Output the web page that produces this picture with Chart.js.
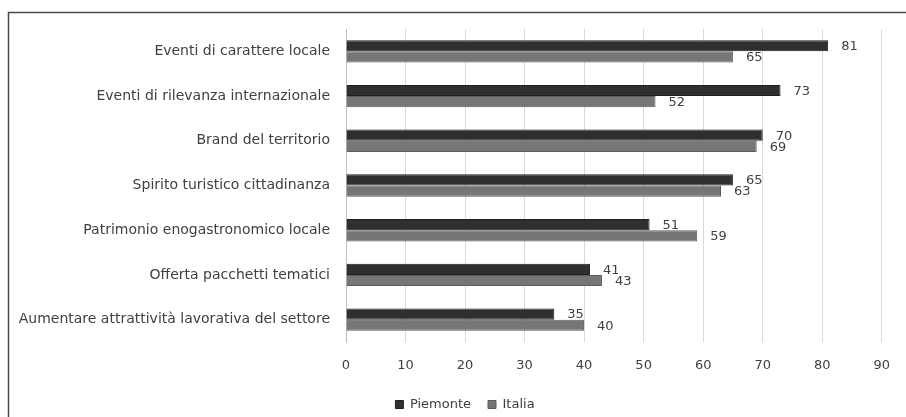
<!DOCTYPE html>
<html>
<head>
<meta charset="utf-8">
<script src="https://cdn.jsdelivr.net/npm/chart.js@4/dist/chart.umd.min.js"></script>
<style>
  html, body { margin: 0; padding: 0; background: #fff; }
  #wrap { width: 906px; height: 417px; }
</style>
</head>
<body>
<div id="wrap"><canvas id="chart"></canvas></div>
<script>
const categories = [
  'Eventi di carattere locale',
  'Eventi di rilevanza internazionale',
  'Brand del territorio',
  'Spirito turistico cittadinanza',
  'Patrimonio enogastronomico locale',
  'Offerta pacchetti tematici',
  'Aumentare attrattività lavorativa del settore'
]
const piemonte = [81, 73, 70, 65, 51, 41, 35]
const italia = [65, 52, 69, 63, 59, 43, 40]
const xTicks = [0, 10, 20, 30, 40, 50, 60, 70, 80, 90]

const FONT = 'DejaVu Sans'

// frame around the whole chart
const framePlugin = {
  id: 'frame',
  beforeDraw(chart) {
    const ctx = chart.ctx
    ctx.save()
    ctx.fillStyle = '#fff'
    ctx.fillRect(0, 0, chart.width, chart.height)
    ctx.strokeStyle = '#4a4a4a'
    ctx.lineWidth = 1.5
    ctx.strokeRect(8.5, 12.5, 1200, 1200)
    ctx.restore()
  }
}

// nudge the legend a bit to the right, like the original
const legendShift = {
  id: 'legendShift',
  afterLayout(chart) {
    chart.legend.left += 23
    chart.legend.right += 23
  }
}

// value labels at the end of each bar
const valueLabels = {
  id: 'valueLabels',
  afterDatasetsDraw(chart) {
    const ctx = chart.ctx
    ctx.save()
    ctx.font = '13px "' + FONT + '"'
    ctx.fillStyle = '#404040'
    ctx.textAlign = 'left'
    ctx.textBaseline = 'middle'
    chart.data.datasets.forEach((ds, i) => {
      chart.getDatasetMeta(i).data.forEach((bar, j) => {
        ctx.fillText(String(ds.data[j]), bar.x + 13, bar.y + 1)
      })
    })
    ctx.restore()
  }
}

const chart = new Chart(document.getElementById('chart'), {
  type: 'bar',
  data: {
    labels: categories,
    datasets: [
      {
        label: 'Piemonte',
        data: piemonte,
        backgroundColor: '#2f2f2f',
        borderColor: '#1e1e1e',
        borderWidth: 1,
        categoryPercentage: 0.5,
        barPercentage: 1
      },
      {
        label: 'Italia',
        data: italia,
        backgroundColor: '#767676',
        borderColor: '#5c5c5c',
        borderWidth: 1,
        categoryPercentage: 0.5,
        barPercentage: 1
      }
    ]
  },
  options: {
    indexAxis: 'y',
    responsive: true,
    maintainAspectRatio: false,
    animation: false,
    layout: { padding: { top: 29, right: 22, bottom: -4, left: 0 } },
    plugins: {
      tooltip: { enabled: false },
      legend: {
        position: 'bottom',
        labels: {
          boxWidth: 8,
          boxHeight: 8,
          padding: 17,
          color: '#404040',
          font: { family: FONT, size: 13 }
        }
      }
    },
    scales: {
      x: {
        min: 0,
        max: 90,
        afterBuildTicks(scale) {
          scale.ticks = xTicks.map(v => ({ value: v }))
        },
        afterFit(scale) { scale.height = 39 },
        grid: { color: '#d9d9d9', drawTicks: false },
        border: { display: false },
        ticks: {
          color: '#404040',
          padding: 16,
          font: { family: FONT, size: 13 }
        }
      },
      y: {
        afterFit(scale) { scale.width = 346 },
        grid: { display: false, drawTicks: false },
        border: { display: true, color: '#bfbfbf' },
        ticks: {
          color: '#404040',
          padding: 16,
          font: { family: FONT, size: 14 }
        }
      }
    }
  },
  plugins: [framePlugin, legendShift, valueLabels]
})
</script>
</body>
</html>
